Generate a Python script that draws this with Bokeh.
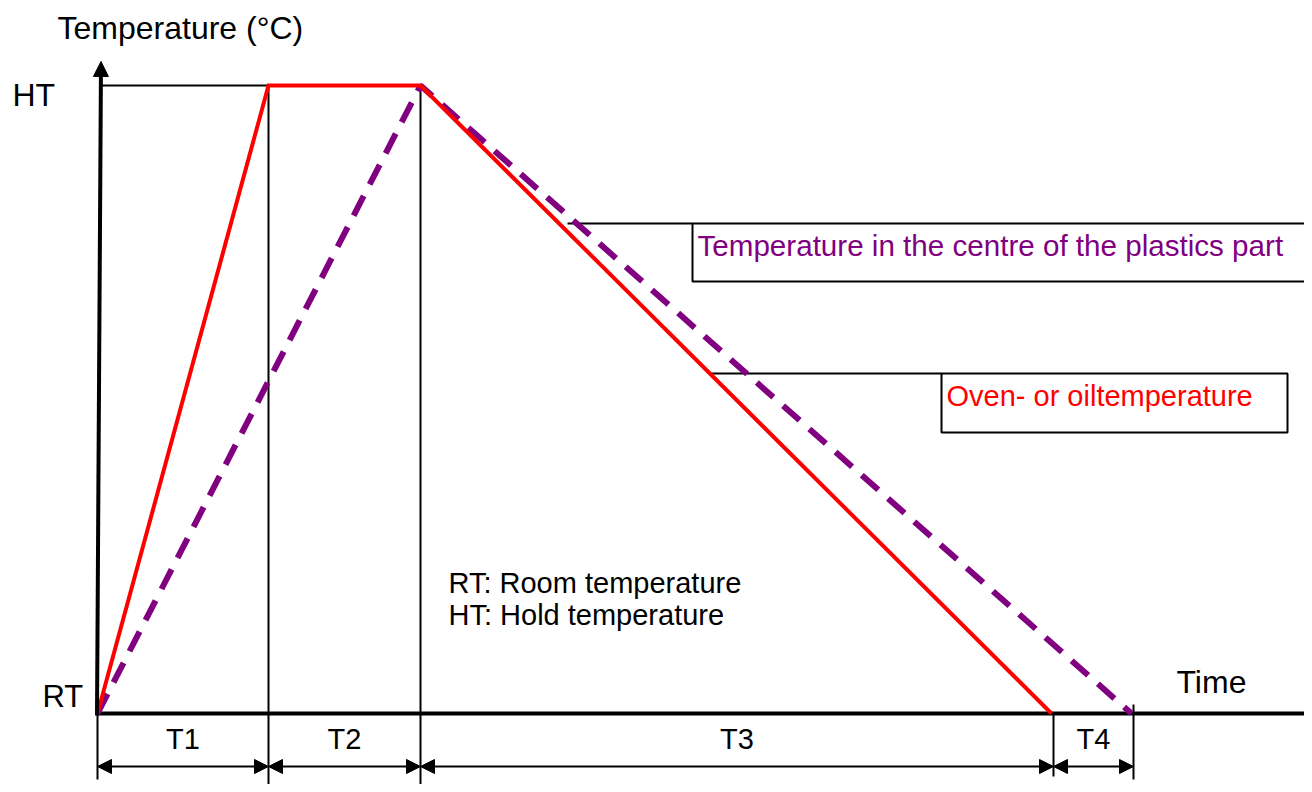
from bokeh.plotting import figure
from bokeh.models import Range1d, Label, Arrow, NormalHead
from bokeh.embed import file_html
from bokeh.resources import INLINE

# ---- data (time in arbitrary units, temperature normalised: RT = 0, HT = 1) ----
phase_names = ["T1", "T2", "T3", "T4"]
phase_bounds = [0.0, 17.1, 32.3, 95.6, 103.6]
oven_time = [0.0, 17.1, 32.3, 95.4]
oven_temp = [0.0, 1.0, 1.0, 0.0]
part_time = [0.0, 32.3, 103.4]
part_temp = [0.0, 1.0, 0.0]
temp_ticks = ["RT", "HT"]

# ---- pixel helpers (layout only) ----
def X(px):
    return (px - 97) / 10.0

def Y(py):
    return (713 - py) / 628.0

W, H = 1304, 784
p = figure(width=W, height=H, output_backend="svg", toolbar_location=None,
           x_range=Range1d(X(0), X(W)), y_range=Range1d(Y(H), Y(0)),
           min_border=0, outline_line_color=None)
p.axis.visible = False
p.grid.visible = False

FONT = "Liberation Sans"

def label(x, y, text, size, color="black", align="left", xd=None, yd=None):
    p.add_layout(Label(x=X(x) if xd is None else xd, y=Y(y) if yd is None else yd,
                       y_offset=0.36 * size, text=text, text_font=FONT,
                       text_font_size=f"{size}px", text_color=color,
                       text_align=align, text_baseline="alphabetic"))

# thin guide lines
p.segment(x0=[X(100)], y0=[1.0], x1=[oven_time[1]], y1=[1.0], line_color="black", line_width=2)
p.segment(x0=[phase_bounds[1], phase_bounds[2]], y0=[1.0, 1.0],
          x1=[phase_bounds[1], phase_bounds[2]], y1=[Y(800), Y(800)],
          line_color="black", line_width=2)
p.segment(x0=[phase_bounds[0], phase_bounds[3], phase_bounds[4]], y0=[0.0, 0.0, Y(704)],
          x1=[phase_bounds[0], phase_bounds[3], phase_bounds[4]], y1=[Y(779), Y(776), Y(779)],
          line_color="black", line_width=2)

# callout boxes with leader lines
p.segment(x0=[X(567), X(709)], y0=[Y(223), Y(373)], x1=[X(692), X(941)], y1=[Y(223), Y(373)],
          line_color="black", line_width=2)
p.quad(left=[X(692), X(941)], right=[X(1330), X(1287)], top=[Y(223), Y(373)],
       bottom=[Y(281), Y(432)], fill_color=None, line_color="black", line_width=2)

# axes
p.line([X(96), X(1330)], [0.0, 0.0], line_color="black", line_width=4)
p.add_layout(Arrow(end=NormalHead(size=15, fill_color="black", line_color="black"),
                   x_start=X(96.5), y_start=Y(715), x_end=X(100.5), y_end=Y(61),
                   line_color="black", line_width=4))

# curves
p.line(part_time, part_temp, line_color="#800080", line_width=6, line_dash="22 13",
       line_cap="butt")
p.line(oven_time, oven_temp, line_color="#FF0000", line_width=4, line_join="miter")

# dimension arrows
for i, name in enumerate(phase_names):
    a, b = phase_bounds[i], phase_bounds[i + 1]
    p.add_layout(Arrow(start=NormalHead(size=14, fill_color="black", line_color="black"),
                       end=NormalHead(size=14, fill_color="black", line_color="black"),
                       x_start=a, y_start=Y(766), x_end=b, y_end=Y(766),
                       line_color="black", line_width=2))
    label(0, 749, name, 29, align="center", xd=(a + b) / 2)

# texts
label(57, 39, "Temperature (°C)", 32)
label(12, 106, temp_ticks[1], 32, yd=1.0 - 21 / 628.0)
label(42, 707, temp_ticks[0], 31, yd=0.0 + 6 / 628.0)
label(1176, 693, "Time", 32)
label(448, 593, "RT: Room temperature", 29)
label(448, 625, "HT: Hold temperature", 29)
label(697, 256, "Temperature in the centre of the plastics part", 29.6, "#800080")
label(946, 406, "Oven- or oiltemperature", 29, "#FF0000")

open("out.html", "w").write(file_html(p, INLINE))
